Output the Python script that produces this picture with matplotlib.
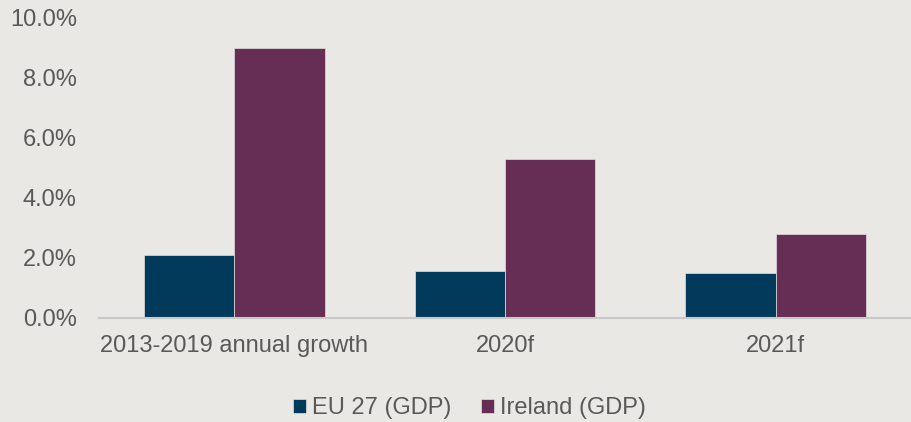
import matplotlib.pyplot as plt
import numpy as np

# GDP growth, EU 27 vs Ireland
categories = ["2013-2019 annual growth", "2020f", "2021f"]
eu27 = [2.1, 1.57, 1.5]
ireland = [9.0, 5.3, 2.8]
yticks = [0, 2, 4, 6, 8, 10]

bg = "#EAE8E4"
eu_col = "#023A5C"
ie_col = "#662D55"
txt_col = "#595959"

plt.rcParams["font.family"] = ["Liberation Sans", "DejaVu Sans"]

fig = plt.figure(figsize=(9.11, 4.22), dpi=100, facecolor=bg)
ax = fig.add_axes([99 / 911, 104 / 422, 812 / 911, 300 / 422], facecolor=bg)

x = np.arange(len(categories))
w = 0.334
b1 = ax.bar(x - w / 2, np.array(eu27) / 100, w, color=eu_col, edgecolor="#E0E0E0", linewidth=0.5, label="EU 27 (GDP)")
b2 = ax.bar(x + w / 2, np.array(ireland) / 100, w, color=ie_col, edgecolor="#E0E0E0", linewidth=0.5, label="Ireland (GDP)")

ax.set_xlim(-0.5, 2.5)
ax.set_ylim(0, 0.10)
ax.set_yticks([t / 100 for t in yticks])
ax.set_yticklabels([f"{t:.1f}%" for t in yticks])
ax.set_xticks(x)
ax.set_xticklabels(categories)

for s in ["top", "right", "left"]:
    ax.spines[s].set_visible(False)
ax.spines["bottom"].set_color("#C8C8C8")
ax.spines["bottom"].set_linewidth(1.5)

ax.tick_params(axis="y", length=0, pad=16, labelsize=17, labelcolor=txt_col)
ax.tick_params(axis="x", length=0, pad=12, labelsize=17, labelcolor=txt_col)

fig.legend(handles=[b1, b2], loc="center", bbox_to_anchor=(469.5 / 911, 1 - 408 / 422),
           ncol=2, frameon=False, fontsize=17, labelcolor=txt_col,
           handlelength=0.55, handleheight=0.55, handletextpad=0.25, columnspacing=1.27)

fig.savefig("out.png", dpi=100, facecolor=bg)
